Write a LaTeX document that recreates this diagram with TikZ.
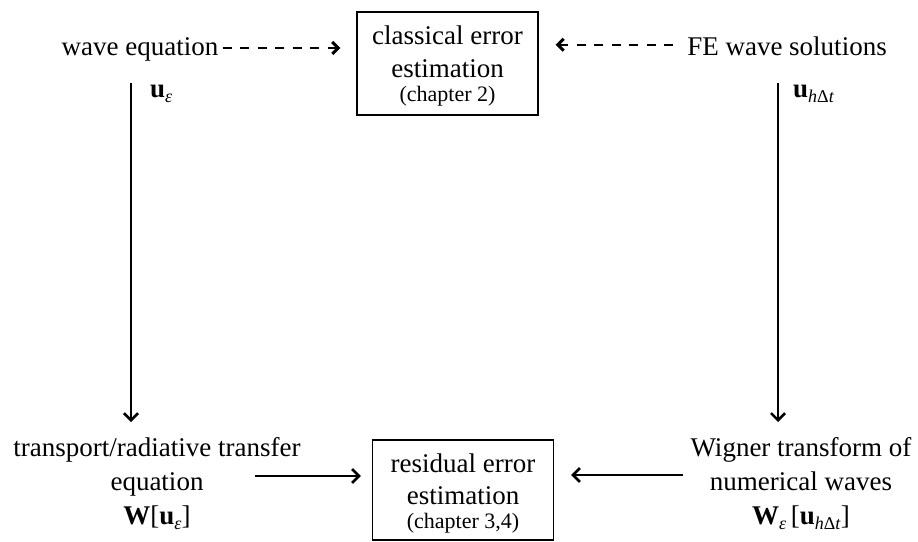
\documentclass[tikz,border=0pt]{standalone}
\usepackage{fontspec}
\setmainfont{Liberation Serif}
\usetikzlibrary{arrows.meta}
\newcommand\mysub[1]{\raisebox{-5pt}{\fontsize{18}{18}\selectfont #1}}
\begin{document}
\begin{tikzpicture}[x=1pt,y=-1pt,
  txt/.style={inner sep=0pt, align=center, font=\fontsize{27}{34}\selectfont},
  boxnode/.style={draw, line width=1.2pt, inner sep=0pt, align=center,
    minimum width=181pt, minimum height=103pt},
  arr/.style={line width=2.2pt, -{Straight Barb[length=7pt,width=14pt,line width=2.6pt]}},
  darr/.style={line width=2.5pt, dash pattern=on 9pt off 8.5pt,
    -{Straight Barb[length=6pt,width=12pt,line width=3pt]}}]
\useasboundingbox (0,0) rectangle (918,541);
% top row
\node[txt, anchor=base] (we) at (140,55) {wave equation};
\node[txt, anchor=base] (fe) at (787,55) {FE wave solutions};
\node[boxnode, font=\fontsize{27}{33}\selectfont] (ce) at (447.5,63.5)
  {\rule{0pt}{24pt}classical error\\estimation\\[-9pt]{\fontsize{22}{26}\selectfont (chapter 2)}};
% bottom row
\node[txt, anchor=north] (bl) at (157,437.3)
  {transport/radiative transfer\\equation\\\textbf{W}[\textbf{u}\mysub{\textit{ε}}]};
\node[txt, anchor=north] (br) at (801,437.6)
  {Wigner transform of\\numerical waves\\\textbf{W}\mysub{\textit{ε}}\,[\textbf{u}\mysub{\textit{h}Δ\textit{t}}]};
\node[boxnode, minimum height=100pt, font=\fontsize{27}{32}\selectfont] (rb) at (463,490)
  {\rule{0pt}{26pt}residual error\\estimation\\[-8pt]{\fontsize{22}{26}\selectfont (chapter 3,4)}};
% side labels
\node[txt, anchor=base west] (ue) at (150,97) {\textbf{u}\mysub{\textit{ε}}};
\node[txt, anchor=base west] (uh) at (793,97) {\textbf{u}\mysub{\textit{h}Δ\textit{t}}};
% connectors
\draw[darr, shorten >=16pt] ([xshift=4pt,yshift=1pt]we.east) -- ([yshift=1pt]we.east -| ce.west);
\draw[darr, shorten >=17pt] ([xshift=-14pt,yshift=1pt]fe.west) -- ([yshift=1pt]fe.west -| ce.east);
\coordinate (ls) at (131,83);
\coordinate (rs) at (778,83);
\draw[arr, shorten >=15.3pt] (ls) -- (ls |- bl.north);
\draw[arr, shorten >=15.6pt] (rs) -- (rs |- br.north);
\coordinate (la) at (255,476);
\coordinate (ra) at (683,475);
\draw[arr, shorten >=11pt] (la) -- (la -| rb.west);
\draw[arr, shorten >=17pt] (ra) -- (ra -| rb.east);
\end{tikzpicture}
\end{document}
